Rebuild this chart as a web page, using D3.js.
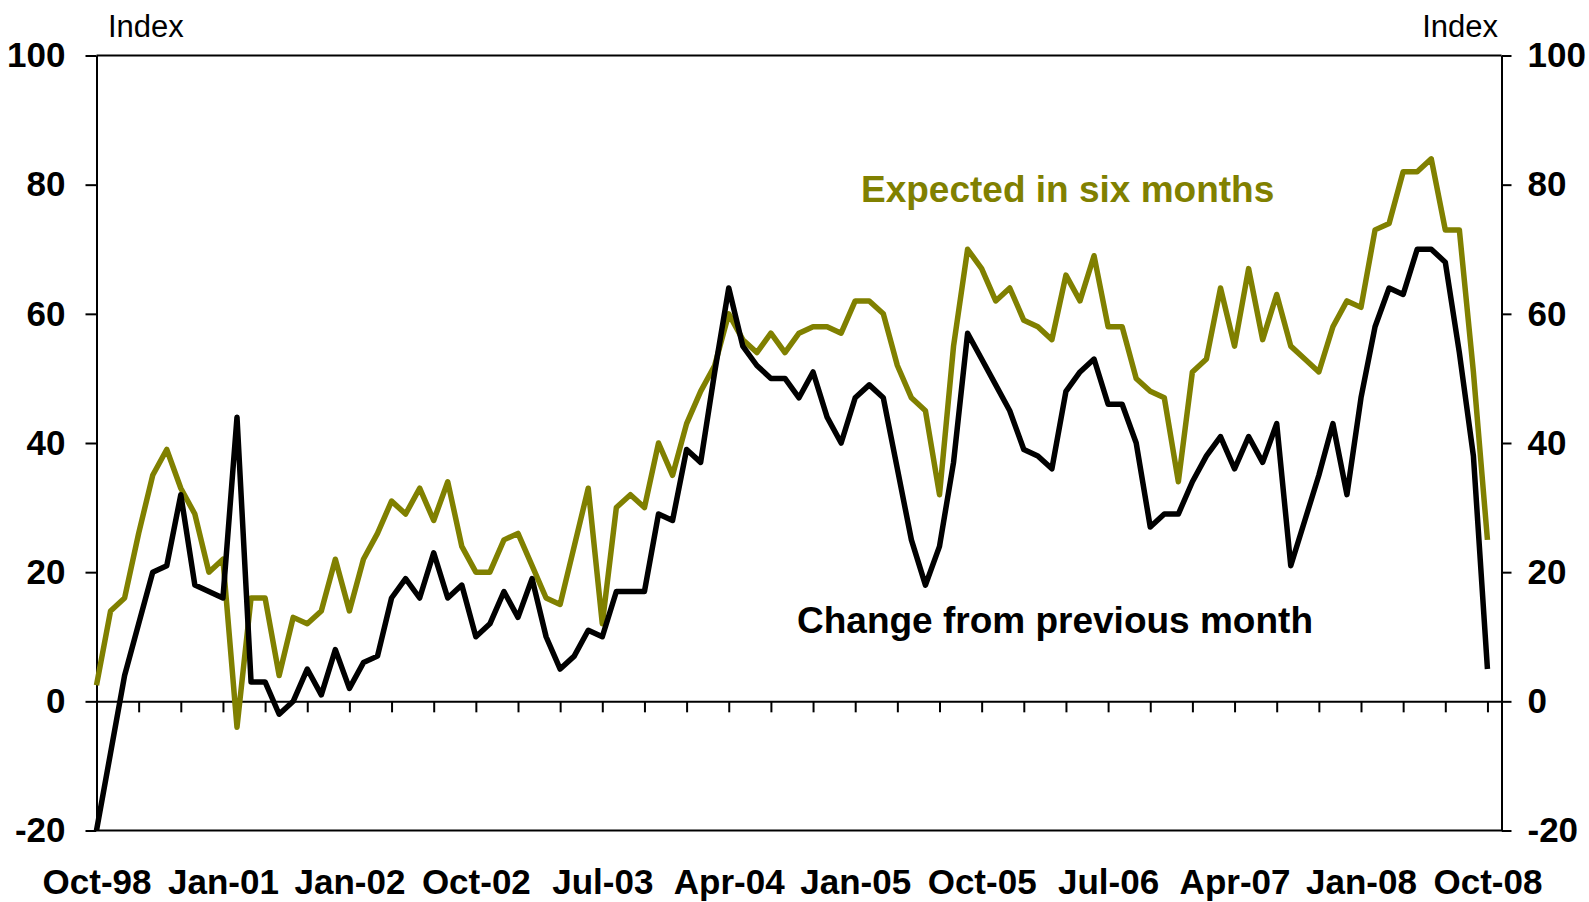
<!DOCTYPE html>
<html>
<head>
<meta charset="utf-8">
<script src="https://cdn.jsdelivr.net/npm/d3@7"></script>
<style>
  body { margin: 0; background: #fff; }
  svg { font-family: Arial, "Liberation Sans", sans-serif; }
</style>
</head>
<body>
<div id="chart"></div>
<script>
// Change from previous month (index), one value per category
const changeFromPrev = [
  -20, -8, 4, 12, 20, 21, 32, 18, 17, 16,
  44, 3, 3, -2, 0, 5, 1, 8, 2, 6,
  7, 16, 19, 16, 23, 16, 18, 10, 12, 17,
  13, 19, 10, 5, 7, 11, 10, 17, 17, 17,
  29, 28, 39, 37, 51, 64, 55, 52, 50, 50,
  47, 51, 44, 40, 47, 49, 47, 36, 25, 18,
  24, 37, 57, 53, 49, 45, 39, 38, 36, 48,
  51, 53, 46, 46, 40, 27, 29, 29, 34, 38,
  41, 36, 41, 37, 43, 21, 28, 35, 43, 32,
  47, 58, 64, 63, 70, 70, 68, 54, 38, 5
];

// Expected in six months (index)
const expectedSixMonths = [
  2.5, 14, 16, 26, 35, 39, 33, 29, 20, 22,
  -4, 16, 16, 4, 13, 12, 14, 22, 14, 22,
  26, 31, 29, 33, 28, 34, 24, 20, 20, 25,
  26, 21, 16, 15, 24, 33, 12, 30, 32, 30,
  40, 35, 43, 48, 52, 60, 56, 54, 57, 54,
  57, 58, 58, 57, 62, 62, 60, 52, 47, 45,
  32, 55, 70, 67, 62, 64, 59, 58, 56, 66,
  62, 69, 58, 58, 50, 48, 47, 34, 51, 53,
  64, 55, 67, 56, 63, 55, 53, 51, 58, 62,
  61, 73, 74, 82, 82, 84, 73, 73, 51, 25
];

const tickLabels = ["Oct-98", "Jan-01", "Jan-02", "Oct-02", "Jul-03", "Apr-04",
                    "Jan-05", "Oct-05", "Jul-06", "Apr-07", "Jan-08", "Oct-08"];
const yTicks = [-20, 0, 20, 40, 60, 80, 100];

const W = 1589, H = 902;
const plot = { left: 96.5, right: 1501.5, top: 55.5, bottom: 830.5 };

const svg = d3.select("#chart").append("svg")
  .attr("width", W).attr("height", H);

const x = d3.scaleLinear().domain([0, changeFromPrev.length]).range([plot.left, plot.right]);
const y = d3.scaleLinear().domain([-20, 100]).range([plot.bottom, plot.top]);

// frame top and bottom
[100, -20].forEach(v => {
  svg.append("line")
    .attr("x1", plot.left).attr("x2", plot.right)
    .attr("y1", y(v)).attr("y2", y(v))
    .attr("stroke", "#000").attr("stroke-width", 2);
});

const styleAxis = g => {
  g.select(".domain").attr("stroke", "#000").attr("stroke-width", 2);
  g.selectAll(".tick line").attr("stroke", "#000").attr("stroke-width", 2);
};
const boldText = g => g.selectAll("text")
  .attr("font-size", 35).attr("font-weight", "bold").attr("fill", "#000");

// left axis
svg.append("g")
  .attr("transform", `translate(${plot.left},0)`)
  .call(d3.axisLeft(y).tickValues(yTicks).tickSize(11).tickSizeOuter(0).tickPadding(20)
    .tickFormat(d => String(d)))
  .call(styleAxis)
  .call(boldText);

// right axis
svg.append("g")
  .attr("transform", `translate(${plot.right},0)`)
  .call(d3.axisRight(y).tickValues(yTicks).tickSize(10).tickSizeOuter(0).tickPadding(16)
    .tickFormat(d => String(d)))
  .call(styleAxis)
  .call(boldText);

// zero line with category ticks
svg.append("g")
  .attr("transform", `translate(0,${y(0)})`)
  .call(d3.axisBottom(x).tickValues(d3.range(3, changeFromPrev.length, 3)).tickSize(11).tickSizeOuter(0).tickFormat(""))
  .call(styleAxis);

// category labels under the plot
svg.append("g")
  .attr("transform", `translate(0,${plot.bottom})`)
  .call(d3.axisBottom(x).tickValues(tickLabels.map((d, i) => i * 9)).tickSize(0).tickPadding(39)
    .tickFormat((d, i) => tickLabels[i]))
  .call(g => g.select(".domain").remove())
  .call(boldText);

const line = d3.line().x((d, i) => x(i)).y(d => y(d));

svg.append("path")
  .datum(expectedSixMonths)
  .attr("d", line)
  .attr("fill", "none")
  .attr("stroke", "#808000")
  .attr("stroke-width", 5.5)
  .attr("stroke-linejoin", "round");

svg.append("path")
  .datum(changeFromPrev)
  .attr("d", line)
  .attr("fill", "none")
  .attr("stroke", "#000")
  .attr("stroke-width", 5.5)
  .attr("stroke-linejoin", "round");

// unit labels
svg.append("text").attr("x", 108).attr("y", 37)
  .attr("font-size", 31).text("Index");
svg.append("text").attr("x", 1498).attr("y", 37)
  .attr("font-size", 31).attr("text-anchor", "end").text("Index");

// series annotations
svg.append("text").attr("x", 861).attr("y", 202)
  .attr("font-size", 37).attr("font-weight", "bold").attr("fill", "#808000")
  .text("Expected in six months");
svg.append("text").attr("x", 797).attr("y", 633)
  .attr("font-size", 37).attr("font-weight", "bold").attr("fill", "#000")
  .text("Change from previous month");
</script>
</body>
</html>
